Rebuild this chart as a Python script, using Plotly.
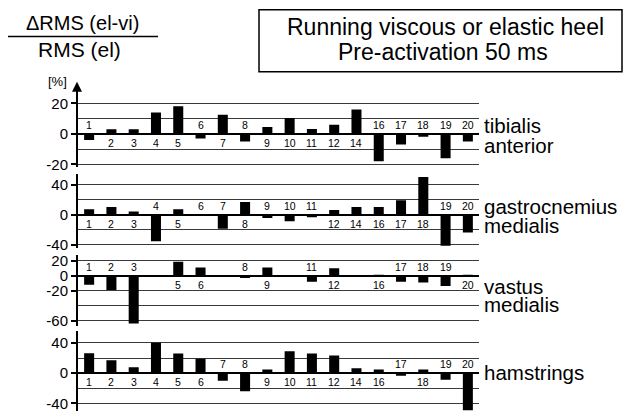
import plotly.graph_objects as go

W, H = 632, 418
FONT = "Liberation Sans, Arial, sans-serif"

subjects = ["1", "2", "3", "4", "5", "6", "7", "8", "9", "10", "11", "12",
            "14", "16", "17", "18", "19", "20"]

tibialis_anterior = [-4, 3, 3, 14, 18, -3, 12.5, -5, 4.5, 10.3, 3.2, 6,
                     16, -18, -7, -2, -16, -5]
gastrocnemius_medialis = [7, 10, 4, -35.5, 7, -0.5, -19, 16.7, -4.4, -9, -3.5, 6,
                          10, 10, 19, 50, -41.7, -24]
vastus_medialis = [-12, -19, -64, None, 19, 11, None, -3, 11, None, -8, 10,
                   None, 1, -8, -9, -13.6, 0.4]
hamstrings = [26.4, 17, 7.8, 40.3, 26, 19, -10, -24, 5, 29, 26, 23.4,
              6.5, 5, -3.5, 5, -8.7, -49]

muscle_labels = [["tibialis", "anterior"], ["gastrocnemius", "medialis"],
                 ["vastus", "medialis"], ["hamstrings"]]

# per-panel tick settings
major_ticks = [[20, 0, -20], [40, 0, -40], [20, 0, -20, -60], [40, 0, -40]]
minor_ticks = [[10, -10], [20, -20], [-40], [20, -20]]

title_lines = ["Running viscous or elastic heel", "Pre-activation 50 ms"]

# ---- layout geometry (pixels) ----
def fx(px):
    return px / W

def fy(py):
    return 1 - py / H

X0, X1 = 78, 479
# (top px, bottom px, y range)
panels = [
    (88, 168, [-21.9, 29.7]),
    (175, 250, [-44.3, 54.0]),
    (257, 330, [-67.9, 28.3]),
    (335, 416, [-50.0, 55.2]),
]
label_pos = [[(126, 0), (146, 1)], [(208, 0), (227, 1)], [(289, 0), (308, 1)], [(377, 0)]]

series = [tibialis_anterior, gastrocnemius_medialis, vastus_medialis, hamstrings]

fig = go.Figure()
annotations = []
layout = dict(
    width=W, height=H, margin=dict(l=0, r=0, t=0, b=0),
    paper_bgcolor="white", plot_bgcolor="white",
    showlegend=False, font=dict(family=FONT, color="black"),
)

for i, (vals, (top, bot, yr)) in enumerate(zip(series, panels)):
    n = i + 1
    xa = "x" if n == 1 else f"x{n}"
    ya = "y" if n == 1 else f"y{n}"
    fig.add_trace(go.Bar(
        x=subjects, y=vals, xaxis=xa, yaxis=ya, width=0.45,
        marker=dict(color="black", line=dict(width=0)),
    ))
    layout[f"xaxis{'' if n == 1 else n}"] = dict(
        domain=[fx(X0), fx(X1)], anchor=ya, type="category",
        categoryorder="array", categoryarray=subjects,
        range=[-0.5, len(subjects) - 0.5],
        showgrid=False, zeroline=False, showticklabels=False, ticks="",
        showline=False, fixedrange=True,
    )
    layout[f"yaxis{'' if n == 1 else n}"] = dict(
        domain=[fy(bot), fy(top)], anchor=xa, range=yr,
        tickmode="array", tickvals=major_ticks[i],
        ticktext=[str(v) for v in major_ticks[i]],
        ticks="outside", ticklen=5, tickwidth=1.5, tickcolor="black",
        tickfont=dict(size=15, family=FONT, color="black"),
        showgrid=True, gridcolor="#3a3a3a", gridwidth=1.2,
        minor=dict(tickvals=minor_ticks[i], showgrid=True,
                   gridcolor="#3a3a3a", gridwidth=1.2, ticks=""),
        zeroline=True, zerolinecolor="black", zerolinewidth=2,
        showline=True, linecolor="black", linewidth=2,
        fixedrange=True,
    )
    # subject number labels (x given as category index)
    for j, (s, v) in enumerate(zip(subjects, vals)):
        if v is None:
            continue
        above = v < 0
        annotations.append(dict(
            x=j, y=0, xref=xa, yref=ya, text=s, showarrow=False,
            xanchor="center", yanchor="bottom" if above else "top",
            yshift=1 if above else -1,
            font=dict(size=10.5, family=FONT, color="black"),
        ))
    # muscle labels
    for (cy, k) in label_pos[i]:
        annotations.append(dict(
            x=fx(482), y=fy(cy), xref="paper", yref="paper",
            text=muscle_labels[i][k], showarrow=False,
            xanchor="left", yanchor="middle",
            font=dict(size=20.5, family=FONT, color="black"),
        ))

# arrow at the top of the first axis
annotations.append(dict(
    x=fx(77), y=fy(81), xref="paper", yref="paper", text="",
    showarrow=True, ax=0, ay=14, arrowhead=2, arrowsize=1, arrowwidth=2,
    arrowcolor="black",
))

# left axis title (fraction)
annotations += [
    dict(x=fx(82), y=fy(21), xref="paper", yref="paper", text="\u0394RMS (el-vi)",
         showarrow=False, xanchor="center", yanchor="middle",
         font=dict(size=20, family=FONT, color="black")),
    dict(x=fx(79), y=fy(48), xref="paper", yref="paper", text="RMS (el)",
         showarrow=False, xanchor="center", yanchor="middle",
         font=dict(size=21, family=FONT, color="black")),
    dict(x=fx(57), y=fy(81), xref="paper", yref="paper", text="[%]",
         showarrow=False, xanchor="center", yanchor="middle",
         font=dict(size=13, family=FONT, color="black")),
]
# title box text
annotations += [
    dict(x=fx(445), y=fy(25), xref="paper", yref="paper", text=title_lines[0],
         showarrow=False, xanchor="center", yanchor="middle",
         font=dict(size=23, family=FONT, color="black")),
    dict(x=fx(443), y=fy(51), xref="paper", yref="paper", text=title_lines[1],
         showarrow=False, xanchor="center", yanchor="middle",
         font=dict(size=23, family=FONT, color="black")),
]

shapes = [
    dict(type="line", xref="paper", yref="paper", x0=fx(8), x1=fx(158),
         y0=fy(35), y1=fy(35), line=dict(color="black", width=1.5)),
    dict(type="rect", xref="paper", yref="paper", x0=fx(259), x1=fx(622),
         y0=fy(71), y1=fy(8), line=dict(color="black", width=1.5)),
]

layout["annotations"] = annotations
layout["shapes"] = shapes
fig.update_layout(**layout)
fig.write_html("out.html", config={"displayModeBar": False},
               post_script="document.body.style.margin='0';")
